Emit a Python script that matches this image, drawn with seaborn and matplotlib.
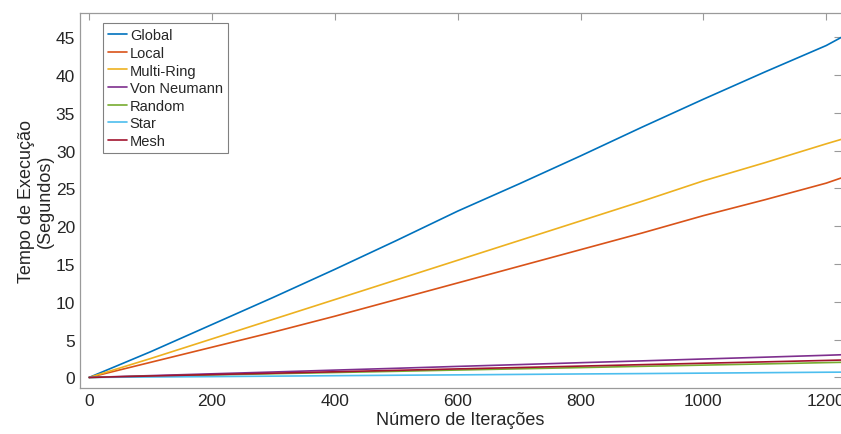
import pandas as pd
import numpy as np
import seaborn as sns
import matplotlib.pyplot as plt

# data (iterations vs. execution time in seconds)
iters = [0, 100, 200, 300, 400, 500, 600, 700, 800, 900, 1000, 1100, 1200, 1225]
t_global = [0, 3.4, 7.0, 10.6, 14.3, 18.1, 22.0, 25.6, 29.3, 33.1, 36.8, 40.4, 43.9, 45.0]
t_local = [0, 2.0, 4.0, 6.0, 8.1, 10.3, 12.5, 14.7, 16.9, 19.1, 21.4, 23.5, 25.7, 26.4]
t_multiring = [0, 2.5, 5.1, 7.7, 10.3, 12.9, 15.5, 18.1, 20.7, 23.3, 26.0, 28.4, 30.9, 31.5]
t_vonneumann = [0, 0.24, 0.48, 0.72, 0.97, 1.21, 1.46, 1.70, 1.95, 2.19, 2.44, 2.68, 2.93, 3.0]
t_random = [0, 0.16, 0.32, 0.49, 0.65, 0.81, 0.98, 1.14, 1.30, 1.47, 1.63, 1.79, 1.96, 2.0]
t_star = [0, 0.06, 0.11, 0.17, 0.23, 0.29, 0.34, 0.40, 0.46, 0.51, 0.57, 0.63, 0.69, 0.7]
t_mesh = [0, 0.19, 0.38, 0.56, 0.75, 0.94, 1.13, 1.31, 1.50, 1.69, 1.88, 2.06, 2.25, 2.3]

topologies = ['Global', 'Local', 'Multi-Ring', 'Von Neumann', 'Random', 'Star', 'Mesh']
series = [t_global, t_local, t_multiring, t_vonneumann, t_random, t_star, t_mesh]
colors = ['#0072BD', '#D95319', '#EDB120', '#7E2F8E', '#77AC30', '#4DBEEE', '#A2142F']

df = pd.concat([pd.DataFrame({'Iteracoes': iters, 'Tempo': s, 'Topologia': name})
                for name, s in zip(topologies, series)], ignore_index=True)

sns.set_style("white")
plt.rcParams['font.family'] = ['Liberation Sans', 'DejaVu Sans']

fig = plt.figure(figsize=(8.41, 4.35), dpi=100)
ax = fig.add_axes([0.0951, 0.1057, 0.9049, 0.8621])

sns.lineplot(data=df, x='Iteracoes', y='Tempo', hue='Topologia',
             hue_order=topologies, palette=colors, linewidth=1.2, ax=ax)

ax.set_xlim(-15, 1224)
ax.set_ylim(-1.4, 48.2)
ax.set_xticks(np.arange(0, 1201, 200))
ax.set_yticks(np.arange(0, 46, 5))
ax.set_xlabel('Número de Iterações', fontsize=13, color='#262626', labelpad=2)
ax.set_ylabel('Tempo de Execução\n(Segundos)', fontsize=13, color='#262626', labelpad=1)

for s in ax.spines.values():
    s.set_color('#9a9a9a')
    s.set_linewidth(0.9)
ax.spines['right'].set_visible(False)
ax.tick_params(direction='in', length=5, width=0.8, color='#9a9a9a',
               top=True, right=True, labelsize=12.5, labelcolor='#262626')

leg = ax.legend(loc='upper left', bbox_to_anchor=(0.030, 0.973), borderaxespad=0,
                fontsize=10.5, handlelength=1.3, handletextpad=0.2, borderpad=0.35,
                labelspacing=0.25, frameon=True, fancybox=False)
leg.get_frame().set_edgecolor('#606060')
leg.get_frame().set_linewidth(0.8)

plt.savefig('out.png', dpi=100)
